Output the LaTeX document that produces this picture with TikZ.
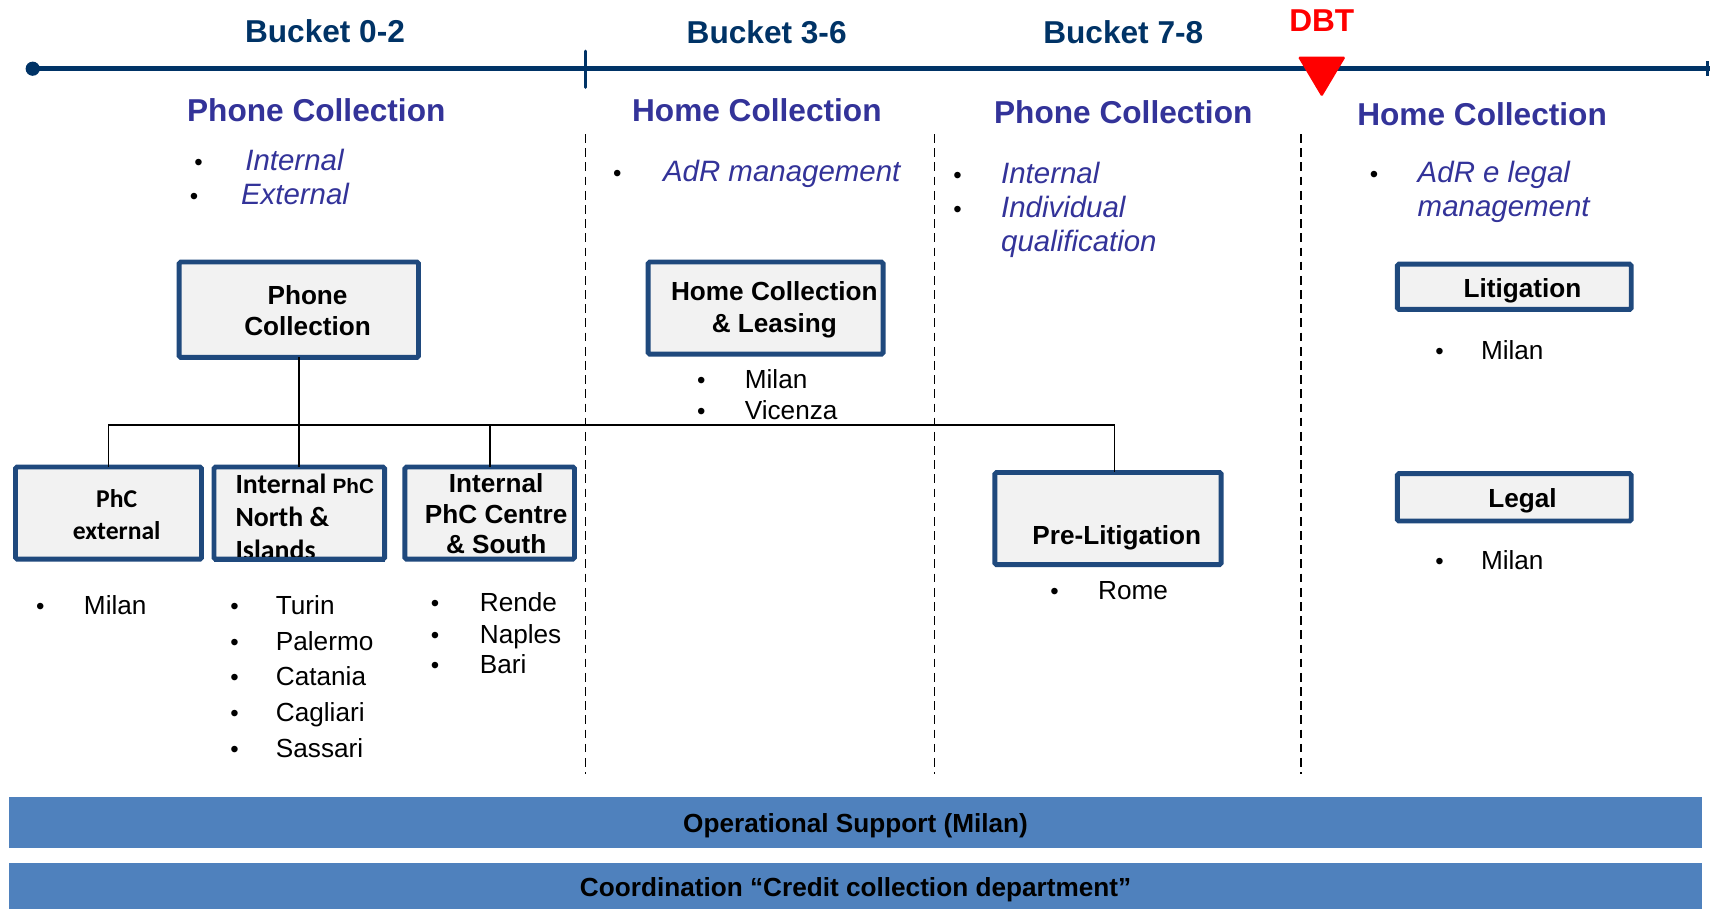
\documentclass[tikz,border=0pt]{standalone}
\usepackage{fontspec}
\setmainfont{Liberation Sans}
\newfontfamily\calib{Carlito}
\definecolor{navy}{RGB}{0,51,102}
\definecolor{headc}{RGB}{51,51,153}
\definecolor{boxc}{RGB}{31,73,125}
\definecolor{boxfill}{RGB}{242,242,242}
\definecolor{barc}{RGB}{79,129,189}
\definecolor{dbtred}{RGB}{255,0,0}
\begin{document}
\begin{tikzpicture}[x=1pt,y=-1pt,
  every node/.style={inner sep=0pt, outer sep=0pt},
  bucket/.style={font=\fontsize{29}{34}\selectfont\bfseries, text=navy, anchor=mid, yshift=-6pt},
  head/.style={font=\fontsize{29}{34}\selectfont\bfseries, text=headc, anchor=mid, yshift=-6pt},
  item/.style={font=\fontsize{27}{32}\selectfont\itshape, text=headc, anchor=mid west, yshift=-6pt},
  bul/.style={font=\fontsize{22}{26}\selectfont, anchor=mid, yshift=-6pt},
  city/.style={font=\fontsize{24}{28}\selectfont, anchor=mid west, yshift=-6pt},
  orgbox/.style={draw=boxc, line width=4.5pt, fill=boxfill, rounded corners=1.5pt},
  boxtxt/.style={font=\fontsize{24}{29}\selectfont\bfseries, align=center},
  onetxt/.style={font=\fontsize{24}{29}\selectfont\bfseries, anchor=mid, yshift=-6pt},
  link/.style={line width=1.6pt, draw=black},
  divider/.style={line width=1.5pt, dash pattern=on 8pt off 5pt},
  bar/.style={fill=barc, draw=none, text depth=0pt, font=\fontsize{24}{28}\selectfont\bfseries}
]
\fill[white] (0,0) rectangle (1568,833);
\useasboundingbox (0,0) rectangle (1568,833);

% timeline
\coordinate (tl0) at (30,63);
\coordinate (tl1) at (1568,63);
\draw[navy, line width=4.2pt] (tl0) -- (tl1);
\fill[navy] (tl0) circle (6.5);
\draw[navy, line width=3pt, line cap=round] (537,47) -- (537,80);
\draw[navy, line width=3pt] (1566,56) -- (1566,70);
\fill[dbtred, rounded corners=1.5pt] (1190,52) -- (1234,52) -- (1212,89) -- cycle;

\node[bucket] (b1) at (298,30) {Bucket 0-2};
\node[bucket] (b2) at (703,31) {Bucket 3-6};
\node[bucket] (b3) at (1030,31) {Bucket 7-8};
\node[bucket, text=dbtred] (dbt) at (1212,20) {DBT};

% dividers
\draw[divider] (537,123) -- (537,710);
\draw[divider] (857,123) -- (857,710);
\draw[divider] (1193,123) -- (1193,710);

% headings
\node[head] (h1) at (290,103) {Phone Collection};
\node[head] (h2) at (694,103) {Home Collection};
\node[head] (h3) at (1030,105) {Phone Collection};
\node[head] (h4) at (1359,106) {Home Collection};

% italic items
\node[bul] (ib1) at (182,148) {•};
\node[item] (i1) at (225,148) {Internal};
\node[bul] (ib2) at (178,179) {•};
\node[item] (i2) at (221,179) {External};
\node[bul] (ib3) at (566,158) {•};
\node[item] (i3) at (608,158) {AdR management};
\node[bul] (ib4) at (878,160) {•};
\node[item] (i4) at (918,160) {Internal};
\node[bul] (ib5) at (878,191) {•};
\node[item] (i5) at (918,191) {Individual};
\node[item] (i6) at (918,222) {qualification};
\node[bul] (ib6) at (1260,159) {•};
\node[item] (i7) at (1300,159) {AdR e legal};
\node[item] (i8) at (1300,190) {management};

% boxes
\node[orgbox, minimum width=219.5pt, minimum height=87.5pt] (pc) at (274,284) {};
\node[boxtxt] (pct) at (282,285) {Phone\\Collection};
\node[orgbox, minimum width=215.5pt, minimum height=84.5pt] (hcl) at (702,282.5) {};
\node[boxtxt] (hclt) at (710,284) {Home Collection\\\& Leasing};
\node[orgbox, minimum width=170.5pt, minimum height=84.5pt] (phce) at (99.5,470.5) {};
\node[boxtxt, font=\fontsize{23.5}{29}\selectfont\calib\bfseries] (phcet) at (107,472) {PhC\\external};
\node[orgbox, minimum width=156.5pt, minimum height=84.5pt] (phcn) at (274.5,470.5) {};
\node[boxtxt, align=left, anchor=west, font=\fontsize{25.5}{30}\selectfont\calib\bfseries] (phcnt) at (216,474) {Internal {\fontsize{19}{30}\selectfont\normalfont\bfseries PhC}\\North \&\\Islands};
\draw[boxc, line width=4.5pt] (phcn.south west) -- (phcn.south east);
\node[orgbox, minimum width=155.5pt, minimum height=84.5pt] (phcs) at (449,470.5) {};
\node[boxtxt, font=\fontsize{24}{28}\selectfont\bfseries] (phcst) at (455,471) {Internal\\PhC Centre\\\& South};
\node[orgbox, minimum width=207.5pt, minimum height=84.5pt] (prelit) at (1016,475.5) {};
\node[onetxt] (prelitt) at (1024,491) {Pre-Litigation};
\node[orgbox, minimum width=214.5pt, minimum height=41.5pt] (lit) at (1388.5,263) {};
\node[onetxt] (litt) at (1396,264) {Litigation};
\node[orgbox, minimum width=214.5pt, minimum height=43.5pt] (legal) at (1388.5,456) {};
\node[onetxt] (legalt) at (1396,457) {Legal};

% connectors
\coordinate (bus) at (274,390);
\draw[link] (pc.south) -- (bus);
\draw[link] (phce.north) |- (bus);
\draw[link] (phcn.north) -- (phcn.north |- bus);
\draw[link] (phcs.north) -- (phcs.north |- bus);
\draw[link] (bus) -| ([xshift=6pt]prelit.north);

% city lists
\node[bul] (cb1) at (37,555) {•};
\node[city] (c1) at (77,555) {Milan};
\node[bul] (cb2) at (215,555) {•};
\node[city] (c2) at (253,555) {Turin};
\node[bul] (cb3) at (215,588) {•};
\node[city] (c3) at (253,588) {Palermo};
\node[bul] (cb4) at (215,620) {•};
\node[city] (c4) at (253,620) {Catania};
\node[bul] (cb5) at (215,653) {•};
\node[city] (c5) at (253,653) {Cagliari};
\node[bul] (cb6) at (215,686) {•};
\node[city] (c6) at (253,686) {Sassari};
\node[bul] (cb7) at (399,552) {•};
\node[city] (c7) at (440,552) {Rende};
\node[bul] (cb8) at (399,581) {•};
\node[city] (c8) at (440,581) {Naples};
\node[bul] (cb9) at (399,609) {•};
\node[city] (c9) at (440,609) {Bari};
\node[bul] (cb10) at (643,348) {•};
\node[city] (c10) at (683,348) {Milan};
\node[bul] (cb11) at (643,376) {•};
\node[city] (c11) at (683,376) {Vicenza};
\node[bul] (cb12) at (967,541) {•};
\node[city] (c12) at (1007,541) {Rome};
\node[bul] (cb13) at (1320,321) {•};
\node[city] (c13) at (1358,321) {Milan};
\node[bul] (cb14) at (1320,514) {•};
\node[city] (c14) at (1358,514) {Milan};

% bottom bars
\node[bar, minimum width=1553pt, minimum height=47pt] (ops) at (784.5,754.5) {Operational Support (Milan)};
\node[bar, minimum width=1553pt, minimum height=44pt] (coord) at (784.5,813) {Coordination “Credit collection department”};
\end{tikzpicture}
\end{document}
